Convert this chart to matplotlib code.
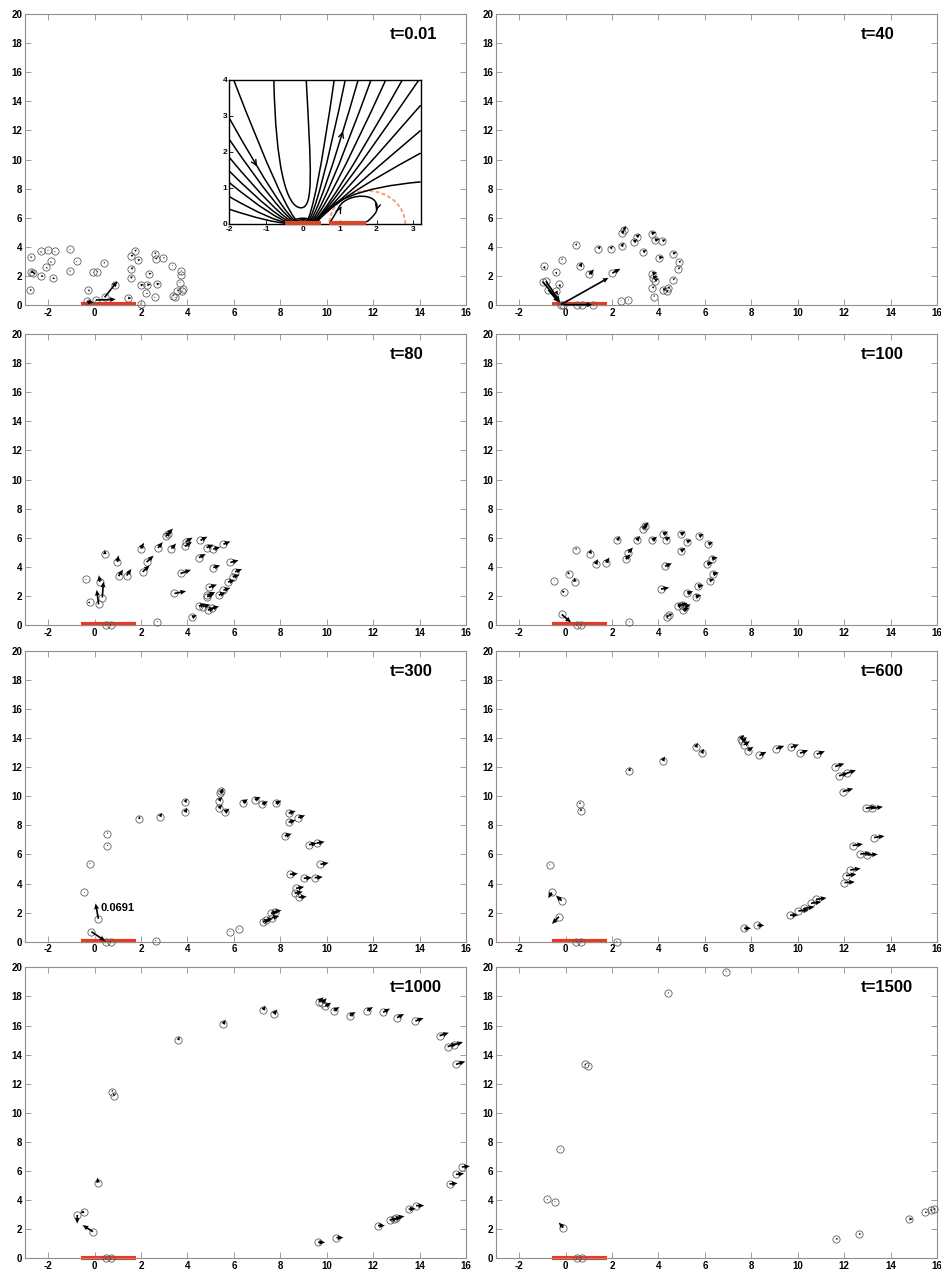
import numpy as np
import matplotlib
matplotlib.use("Agg")
import matplotlib.pyplot as plt
from matplotlib.path import Path
from matplotlib.patches import PathPatch, Arc

plt.rcParams['font.family'] = ['Liberation Sans', 'DejaVu Sans']
plt.rcParams['axes.unicode_minus'] = False

# ---------------- data ----------------
titles = ["t=0.01", "t=40", "t=80", "t=100", "t=300", "t=600", "t=1000", "t=1500"]
x_ticks = [-2, 0, 2, 4, 6, 8, 10, 12, 14, 16]
y_ticks = [0, 2, 4, 6, 8, 10, 12, 14, 16, 18, 20]
bar_x = [-0.6, 1.77]

t001_x = [-2.79, -2.76, -2.73, -2.64, -2.33, -2.30, -2.01, -2.08, -1.90, -1.71, -1.80, -1.06, -1.06, -0.78,
          -0.27, -0.06, 0.11, 0.40, -0.34, 0.06, 0.43, 0.86, 1.44, 1.98, 1.58, 1.74, 1.87, 1.58, 1.55,
          1.98, 2.27, 2.34, 2.23, 2.59, 2.63, 2.96, 2.67, 2.59, 3.35, 3.71, 3.71, 3.66, 3.56, 3.45, 3.39,
          3.78, 3.82]
t001_y = [1.03, 3.33, 2.30, 2.18, 3.68, 2.02, 3.79, 2.60, 2.99, 3.70, 1.86, 3.82, 2.37, 2.99,
          1.03, 2.25, 2.30, 2.87, 0.25, 0.34, 0.53, 1.40, 0.48, 0.07, 3.36, 3.70, 3.06, 2.48, 1.86,
          1.38, 1.40, 2.14, 0.80, 3.52, 3.17, 3.24, 1.45, 0.53, 2.71, 2.37, 2.09, 1.52, 0.99, 0.53, 0.64,
          0.94, 1.10]
t001_u = [0.10, 0.05, 0.15, 0.10, 0.05, 0.10, 0.00, 0.05, 0.05, 0.00, 0.10, 0.00, 0.00, 0.00,
          0.08, 0.05, 0.05, 0.05, 0.30, 0.85, 0.55, 0.10, 0.15, 0.00, 0.10, 0.08, 0.10, 0.10, 0.10,
          0.15, 0.15, 0.12, 0.08, 0.08, 0.08, 0.08, 0.15, 0.00, 0.05, 0.05, 0.05, 0.05, 0.10, 0.05, 0.05,
          0.00, 0.05]
t001_v = [0.00, -0.12, -0.10, -0.05, -0.10, -0.10, -0.10, -0.12, -0.10, -0.10, -0.08, -0.05, -0.12, -0.05,
          -0.10, 0.00, 0.05, 0.10, -0.10, 0.05, 1.10, 0.12, 0.00, 0.05, 0.10, 0.12, 0.10, 0.12, 0.12,
          0.00, 0.00, 0.05, 0.00, 0.10, 0.08, 0.00, 0.00, 0.00, 0.00, 0.00, 0.05, 0.05, 0.05, 0.00, 0.05,
          0.00, 0.00]

t040_x = [-0.99, -0.85, -0.93, -0.75, -0.42, -0.27, -0.42, -0.17, 0.44, 0.62, 1.02, 1.41, 1.94, 2.01,
          2.41, 2.44, 2.51, 2.94, 3.06, 3.34, 3.70, 3.85, 4.17, 4.03, 3.74, 3.77, 3.85, 3.74, 3.80, 4.20,
          4.35, 4.42, 4.63, 4.89, 4.85, 4.63, 2.37, 2.70, 0.47, 0.69, 1.19, -0.20, -0.10]
t040_y = [1.61, 1.64, 2.65, 1.04, 2.26, 1.41, 0.94, 3.11, 4.10, 2.65, 2.10, 3.87, 3.87, 2.19,
          4.03, 4.95, 5.18, 4.33, 4.68, 3.64, 4.91, 4.45, 4.40, 3.25, 2.14, 1.87, 1.68, 1.18, 0.58, 1.04,
          0.94, 1.18, 3.53, 2.95, 2.49, 1.75, 0.30, 0.35, 0.00, 0.00, 0.00, 0.03, 0.02]
t040_u = [0.75, 0.60, 0.05, 0.45, 0.05, 0.05, 0.10, 0.05, 0.05, 0.10, 0.20, 0.10, 0.10, 0.35,
          0.10, 0.10, 0.10, 0.15, 0.15, 0.15, 0.20, 0.20, 0.15, 0.20, 0.20, 0.20, 0.15, 0.10, 0.05, 0.15,
          0.10, 0.10, 0.15, 0.10, 0.10, 0.10, 0.05, 0.00, 0.00, 0.00, 0.00, 2.05, 1.25]
t040_v = [-1.45, -1.40, -0.20, -0.85, -0.15, -0.20, -0.25, 0.10, 0.15, 0.30, 0.35, 0.20, 0.20, 0.30,
          0.25, 0.25, 0.25, 0.20, 0.20, 0.15, 0.10, 0.10, 0.10, 0.05, 0.10, 0.10, 0.15, 0.10, 0.10, 0.10,
          0.10, 0.10, 0.10, 0.10, 0.10, 0.10, 0.00, 0.00, 0.00, 0.00, 0.00, 1.84, 0.00]

t080_x = [-0.39, -0.20, 0.17, 0.33, 0.23, 0.44, 0.98, 1.03, 1.38, 1.98, 2.24, 2.07, 2.73, 3.08, 3.17,
          3.31, 3.89, 3.92, 3.70, 3.44, 4.56, 4.82, 5.11, 4.49, 5.11, 5.35, 4.92, 4.85, 4.85, 4.49, 4.68,
          4.88, 5.06, 4.20, 2.70, 0.47, 0.69, 5.55, 5.85, 6.05, 5.95, 5.75, 5.55]
t080_y = [3.15, 1.55, 1.42, 1.89, 2.97, 4.86, 4.34, 3.36, 3.40, 5.25, 4.32, 3.65, 5.30, 6.10, 6.28,
          5.25, 5.41, 5.71, 3.54, 2.17, 5.82, 5.32, 5.21, 4.63, 3.95, 2.05, 2.58, 2.05, 1.94, 1.30, 1.26,
          1.03, 1.14, 0.53, 0.23, 0.00, 0.00, 5.55, 4.30, 3.65, 3.30, 2.95, 2.40]
t080_u = [0.05, -0.10, -0.08, 0.05, -0.05, 0.00, 0.05, 0.20, 0.20, 0.15, 0.30, 0.30, 0.20, 0.20, 0.20,
          0.20, 0.30, 0.30, 0.45, 0.50, 0.30, 0.30, 0.30, 0.30, 0.30, 0.30, 0.35, 0.35, 0.30, 0.30, 0.30,
          0.30, 0.30, 0.20, 0.00, 0.00, 0.00, 0.30, 0.35, 0.30, 0.30, 0.30, 0.30]
t080_v = [-0.05, 0.00, 1.00, 1.10, 0.45, 0.30, 0.45, 0.45, 0.45, 0.40, 0.45, 0.45, 0.40, 0.35, 0.35,
          0.35, 0.30, 0.30, 0.25, 0.15, 0.25, 0.20, 0.15, 0.25, 0.15, 0.20, 0.20, 0.20, 0.20, 0.15, 0.15,
          0.15, 0.15, 0.15, 0.00, 0.00, 0.00, 0.20, 0.15, 0.20, 0.15, 0.15, 0.15]

t100_x = [-0.49, -0.07, 0.14, 0.40, 0.45, -0.17, 0.47, 0.66, 1.05, 1.29, 1.74, 2.23, 2.59, 2.70, 3.06,
          3.35, 3.42, 3.74, 4.21, 4.31, 4.28, 4.11, 4.35, 4.47, 2.74, 4.96, 5.22, 4.96, 5.24, 4.83, 5.00,
          5.14, 5.07, 5.75, 6.15, 6.30, 6.10, 6.35, 6.20, 5.70, 5.60]
t100_y = [3.04, 2.24, 3.49, 2.97, 5.18, 0.73, 0.00, 0.00, 4.91, 4.18, 4.29, 5.82, 4.52, 4.98, 5.82,
          6.62, 6.78, 5.82, 6.23, 5.87, 4.04, 2.47, 0.57, 0.68, 0.21, 6.23, 5.71, 5.09, 2.17, 1.30, 1.37,
          1.26, 1.03, 6.10, 5.55, 4.55, 4.20, 3.50, 3.05, 2.65, 1.95]
t100_u = [0.05, -0.10, -0.05, -0.03, 0.00, 0.40, 0.00, 0.00, 0.05, 0.10, 0.15, 0.10, 0.20, 0.20, 0.15,
          0.15, 0.15, 0.20, 0.20, 0.20, 0.30, 0.35, 0.15, 0.15, 0.00, 0.20, 0.20, 0.20, 0.25, 0.25, 0.25,
          0.25, 0.25, 0.20, 0.20, 0.25, 0.25, 0.25, 0.20, 0.25, 0.25]
t100_v = [0.00, 0.15, 0.20, 0.30, 0.15, -0.55, 0.00, 0.00, 0.30, 0.35, 0.35, 0.30, 0.35, 0.35, 0.30,
          0.30, 0.30, 0.25, 0.20, 0.20, 0.20, 0.10, 0.10, 0.10, 0.00, 0.20, 0.15, 0.20, 0.15, 0.15, 0.15,
          0.15, 0.15, 0.15, 0.15, 0.10, 0.10, 0.10, 0.10, 0.10, 0.10]

t300_x = [-0.46, -0.22, 0.55, 0.55, 0.16, -0.14, 0.47, 0.69, 2.63, 1.91, 2.81, 3.89, 3.89, 5.35, 5.35,
          5.42, 5.45, 5.61, 6.40, 6.90, 7.22, 7.80, 8.36, 8.36, 8.77, 8.19, 9.23, 9.56, 9.73, 8.41, 9.01,
          9.48, 8.68, 8.62, 8.79, 7.25, 7.39, 7.60, 7.65, 7.75, 5.83, 6.21]
t300_y = [3.39, 5.34, 6.58, 7.43, 1.58, 0.69, 0.00, 0.00, 0.07, 8.44, 8.60, 9.59, 8.90, 9.17, 9.70,
          10.21, 10.34, 8.90, 9.56, 9.75, 9.45, 9.50, 8.83, 8.21, 8.53, 7.27, 6.67, 6.77, 5.32, 4.63, 4.36,
          4.40, 3.67, 3.33, 3.05, 1.38, 1.49, 1.95, 1.65, 2.06, 0.69, 0.87]
t300_u = [0.05, 0.05, 0.02, 0.02, -0.12, 0.60, 0.00, 0.00, 0.00, 0.05, 0.10, 0.10, 0.10, 0.15, 0.15,
          0.15, 0.10, 0.20, 0.20, 0.25, 0.25, 0.25, 0.30, 0.30, 0.30, 0.30, 0.35, 0.35, 0.35, 0.35, 0.35,
          0.35, 0.35, 0.35, 0.35, 0.30, 0.30, 0.30, 0.30, 0.30, 0.00, 0.00]
t300_v = [0.00, 0.05, 0.10, 0.10, 1.05, -0.65, 0.00, 0.00, 0.00, 0.20, 0.25, 0.25, 0.30, 0.25, 0.25,
          0.25, 0.20, 0.25, 0.25, 0.20, 0.20, 0.20, 0.15, 0.15, 0.15, 0.15, 0.10, 0.10, 0.10, 0.05, 0.05,
          0.05, 0.10, 0.10, 0.05, 0.10, 0.10, 0.10, 0.10, 0.10, 0.00, 0.00]

t600_x = [-0.68, -0.60, -0.17, -0.29, 0.62, 0.66, 0.45, 0.66, 2.20, 2.74, 4.18, 5.60, 5.86, 7.54, 7.61,
          7.69, 7.84, 8.35, 9.07, 9.70, 10.10, 10.82, 11.61, 11.78, 12.11, 11.94, 12.93, 13.22, 13.29,
          12.36, 12.69, 13.00, 12.26, 12.08, 12.01, 10.79, 10.57, 10.27, 10.03, 9.67, 7.69, 8.26]
t600_y = [5.28, 3.39, 2.82, 1.72, 9.47, 8.99, 0.00, 0.00, 0.00, 11.74, 12.43, 13.37, 12.96, 13.92, 13.76,
          13.53, 13.14, 12.80, 13.26, 13.35, 12.96, 12.89, 12.04, 11.40, 11.58, 10.32, 9.17, 9.17, 7.16,
          6.61, 6.03, 5.96, 4.93, 4.54, 4.06, 2.91, 2.64, 2.29, 2.11, 1.83, 0.92, 1.12]
t600_u = [0.00, -0.15, -0.25, -0.30, 0.00, 0.00, 0.00, 0.00, 0.00, 0.05, 0.10, 0.10, 0.10, 0.15, 0.20,
          0.25, 0.25, 0.30, 0.35, 0.35, 0.35, 0.35, 0.40, 0.40, 0.40, 0.45, 0.45, 0.45, 0.45,
          0.45, 0.45, 0.45, 0.45, 0.45, 0.45, 0.45, 0.45, 0.45, 0.45, 0.35, 0.30, 0.30]
t600_v = [-0.05, -0.40, 0.35, -0.50, 0.15, 0.20, 0.00, 0.00, 0.00, 0.25, 0.30, 0.30, 0.30, 0.30, 0.30,
          0.25, 0.25, 0.25, 0.20, 0.20, 0.20, 0.20, 0.20, 0.20, 0.20, 0.20, 0.10, 0.10, 0.10,
          0.10, 0.05, 0.05, 0.10, 0.10, 0.05, 0.10, 0.10, 0.10, 0.10, 0.00, 0.00, 0.00]

t1000_x = [-0.75, -0.46, -0.07, 0.14, 0.76, 0.83, 0.47, 0.69, 3.60, 5.54, 7.26, 7.72, 9.66, 9.80, 9.94,
           10.30, 10.99, 11.74, 12.43, 13.03, 13.82, 14.86, 15.21, 15.47, 15.57, 15.82, 15.57, 15.29,
           13.53, 13.85, 13.00, 12.88, 12.71, 12.21, 10.42, 9.63]
t1000_y = [2.98, 3.21, 1.83, 5.20, 11.45, 11.18, 0.00, 0.00, 15.00, 16.10, 17.07, 16.80, 17.64, 17.57,
           17.32, 17.02, 16.68, 17.02, 16.91, 16.54, 16.31, 15.30, 14.55, 14.66, 13.33, 6.28, 5.77, 5.11,
           3.37, 3.62, 2.79, 2.70, 2.63, 2.25, 1.42, 1.10]
t1000_u = [0.00, -0.15, -0.45, -0.02, 0.00, 0.00, 0.00, 0.00, 0.05, 0.10, 0.10, 0.15, 0.20, 0.20, 0.25,
           0.25, 0.25, 0.25, 0.30, 0.30, 0.35, 0.40, 0.40, 0.40, 0.40, 0.35, 0.35, 0.35,
           0.30, 0.35, 0.35, 0.35, 0.35, 0.30, 0.30, 0.30]
t1000_v = [-0.60, -0.10, 0.45, 0.35, 0.15, 0.20, 0.00, 0.00, 0.25, 0.30, 0.30, 0.30, 0.30, 0.30, 0.25,
           0.25, 0.25, 0.25, 0.25, 0.25, 0.20, 0.20, 0.20, 0.20, 0.20, 0.05, 0.05, 0.05,
           0.05, 0.00, 0.10, 0.10, 0.10, 0.00, 0.00, 0.00]

t1500_x = [-0.79, -0.46, -0.10, -0.24, 0.83, 0.98, 0.47, 0.69, 4.43, 6.91, 11.65, 12.64, 14.81, 15.49,
           15.73, 15.85]
t1500_y = [4.08, 3.89, 2.11, 7.51, 13.36, 13.22, 0.00, 0.00, 18.21, 19.70, 1.33, 1.67, 2.70, 3.16,
           3.32, 3.39]
t1500_u = [0.00, 0.00, -0.20, 0.00, 0.05, 0.00, 0.00, 0.00, 0.00, 0.00, 0.10, 0.10, 0.15, 0.10, 0.10, 0.10]
t1500_v = [-0.10, 0.05, 0.35, 0.00, -0.10, 0.00, 0.00, 0.00, 0.10, 0.10, 0.00, 0.00, 0.00, 0.00, 0.00, 0.00]

panel_data = [(t001_x, t001_y, t001_u, t001_v), (t040_x, t040_y, t040_u, t040_v),
              (t080_x, t080_y, t080_u, t080_v), (t100_x, t100_y, t100_u, t100_v),
              (t300_x, t300_y, t300_u, t300_v), (t600_x, t600_y, t600_u, t600_v),
              (t1000_x, t1000_y, t1000_u, t1000_v), (t1500_x, t1500_y, t1500_u, t1500_v)]

speed_label = "0.0691"
speed_label_pos = (0.26, 2.29)

# inset streamlines: (start, knee, end) of quadratic curves
inset_lines = [
    [(-0.38, 0.01), (-0.95, 0.05), (-2.0, 0.41)],
    [(-0.33, 0.01), (-0.85, 0.08), (-2.0, 0.76)],
    [(-0.28, 0.01), (-0.78, 0.12), (-2.0, 1.15)],
    [(-0.24, 0.01), (-0.72, 0.16), (-2.0, 1.47)],
    [(-0.20, 0.01), (-0.66, 0.20), (-2.0, 1.85)],
    [(-0.16, 0.01), (-0.60, 0.24), (-2.0, 2.35)],
    [(-0.13, 0.01), (-0.55, 0.28), (-2.0, 2.94)],
    [(-0.10, 0.01), (-0.50, 0.32), (-1.88, 4.0)],
    [(0.08, 0.01), (0.34, 0.35), (0.85, 4.0)],
    [(0.11, 0.01), (0.40, 0.32), (1.15, 4.0)],
    [(0.14, 0.01), (0.46, 0.29), (1.50, 4.0)],
    [(0.17, 0.01), (0.52, 0.26), (1.85, 4.0)],
    [(0.20, 0.01), (0.57, 0.24), (2.25, 4.0)],
    [(0.23, 0.01), (0.62, 0.22), (2.70, 4.0)],
    [(0.26, 0.01), (0.64, 0.26), (3.15, 4.0)],
    [(0.29, 0.01), (0.66, 0.32), (3.2, 3.3)],
    [(0.32, 0.01), (0.69, 0.42), (3.2, 2.6)],
    [(0.35, 0.01), (0.72, 0.60), (3.2, 1.97)],
    [(0.38, 0.01), (0.75, 0.95), (3.2, 1.17)],
]
u_curve = [(-0.79, 4.0), (-0.74, 1.6), (-0.45, 0.45), (-0.05, 0.45), (0.30, 0.45), (0.22, 1.5), (0.09, 4.0)]
loop_pts = [(0.72, 0.02), (0.90, 0.30), (1.05, 0.62), (1.50, 0.80), (1.95, 0.72), (2.05, 0.40),
            (1.85, 0.15), (1.70, 0.03), (1.20, 0.03), (0.85, 0.04)]
blob_widths = [0.25, 0.45, 0.65]
blob_heights = [0.08, 0.12, 0.16]
inset_red = [(-0.48, 0.49), (0.70, 1.71)]
dashed_arc = dict(center=(1.75, 0.0), width=2.06, height=1.84)

# ---------------- layout ----------------
W, H = 941, 1270
fig = plt.figure(figsize=(W / 100, H / 100), dpi=100)
col_left = [25, 496]
row_bottom = [305, 625, 941.7, 1258.3]
aw, ah = 441, 291
frame_col = '#9c8a84'
red = '#e63a24'

axes = []
for i in range(8):
    r, c = divmod(i, 2)
    ax = fig.add_axes([col_left[c] / W, 1 - row_bottom[r] / H, aw / W, ah / H])
    axes.append(ax)
    ax.set_xlim(-3, 16)
    ax.set_ylim(0, 20)
    ax.set_xticks(x_ticks)
    ax.set_yticks(y_ticks)
    ax.tick_params(direction='in', top=True, right=True, length=4, width=0.6,
                   color=frame_col, labelsize=7, pad=2)
    for lab in ax.get_xticklabels() + ax.get_yticklabels():
        lab.set_fontweight('bold')
    for s in ax.spines.values():
        s.set_color(frame_col)
        s.set_linewidth(0.8)
    ax.plot(bar_x, [0.05, 0.05], color=red, lw=3, solid_capstyle='butt', clip_on=False, zorder=2)
    xs, ys, us, vs = panel_data[i]
    ax.plot(xs, ys, 'o', mfc='none', mec='#606060', ms=5.2, mew=0.6, clip_on=False, zorder=3)
    ax.quiver(xs, ys, us, vs, angles='xy', scale_units='xy', scale=1, width=0.0038,
              headwidth=3, headlength=3.5, headaxislength=3.2, minlength=0.6,
              color='k', zorder=4, clip_on=False)
    ax.text(0.826, 0.93, titles[i], transform=ax.transAxes, fontsize=12,
            fontweight='bold', ha='left', va='center')

axes[4].text(speed_label_pos[0], speed_label_pos[1], speed_label, fontsize=8,
             fontweight='bold', ha='left', va='center')

# ---------------- inset ----------------
ins = fig.add_axes([229.3 / W, 1 - 224 / H, 191.4 / W, 144 / H])
ins.set_xlim(-2, 3.2)
ins.set_ylim(0, 4)
ins.set_xticks([-2, -1, 0, 1, 2, 3])
ins.set_yticks([0, 1, 2, 3, 4])
ins.tick_params(direction='in', length=3, width=0.6, labelsize=6, pad=1.5)
for lab in ins.get_xticklabels() + ins.get_yticklabels():
    lab.set_fontweight('bold')
for s in ins.spines.values():
    s.set_linewidth(1.0)


def quad_path(p):
    return Path(p, [Path.MOVETO, Path.CURVE3, Path.CURVE3])


def bspline_path(pts):
    pts = np.asarray(pts, float)
    verts = [pts[0]]
    codes = [Path.MOVETO]
    n = len(pts)
    for i in range(1, n - 1):
        end = (pts[i] + pts[i + 1]) / 2 if i < n - 2 else pts[i + 1]
        verts += [pts[i], end]
        codes += [Path.CURVE3, Path.CURVE3]
    return Path(verts, codes)


def quad_eval(p, t):
    p = np.asarray(p, float)
    pt = (1 - t) ** 2 * p[0] + 2 * t * (1 - t) * p[1] + t ** 2 * p[2]
    d = 2 * (1 - t) * (p[1] - p[0]) + 2 * t * (p[2] - p[1])
    return pt, d


for ln in inset_lines:
    ins.add_patch(PathPatch(quad_path(ln), fc='none', ec='k', lw=1.1, zorder=3))
ucodes = [Path.MOVETO, Path.CURVE4, Path.CURVE4, Path.CURVE4, Path.CURVE4, Path.CURVE4, Path.CURVE4]
ins.add_patch(PathPatch(Path(u_curve, ucodes), fc='none', ec='k', lw=1.1, zorder=3))
ins.add_patch(PathPatch(bspline_path(loop_pts), fc='none', ec='k', lw=1.1, zorder=3))
for bw, bh in zip(blob_widths, blob_heights):
    ins.add_patch(Arc((0, 0), bw, 2 * bh, theta1=0, theta2=180, color='k', lw=1.1, zorder=3))
ins.add_patch(Arc(dashed_arc['center'], dashed_arc['width'], dashed_arc['height'],
                  theta1=0, theta2=180, color='#f4a07a', lw=1.4, ls=(0, (2, 1.2)), zorder=2))
for a, b in inset_red:
    ins.plot([a, b], [0.02, 0.02], color='#d9452a', lw=3, solid_capstyle='butt', zorder=4, clip_on=False)

# direction marks on streamlines
for idx, t, sign in [(6, 0.72, -1), (10, 0.78, 1)]:
    pt, d = quad_eval(inset_lines[idx], t)
    d = d / np.hypot(*d) * 0.12 * sign
    ins.annotate('', xy=pt + d, xytext=pt - d,
                 arrowprops=dict(arrowstyle='->', lw=1.0, color='k', mutation_scale=9))
ins.annotate('', xy=(1.08, 0.55), xytext=(1.0, 0.40),
             arrowprops=dict(arrowstyle='->', lw=1.0, color='k', mutation_scale=9))
ins.annotate('', xy=(1.97, 0.30), xytext=(2.02, 0.48),
             arrowprops=dict(arrowstyle='->', lw=1.0, color='k', mutation_scale=9))

fig.savefig('out.png', dpi=100)
